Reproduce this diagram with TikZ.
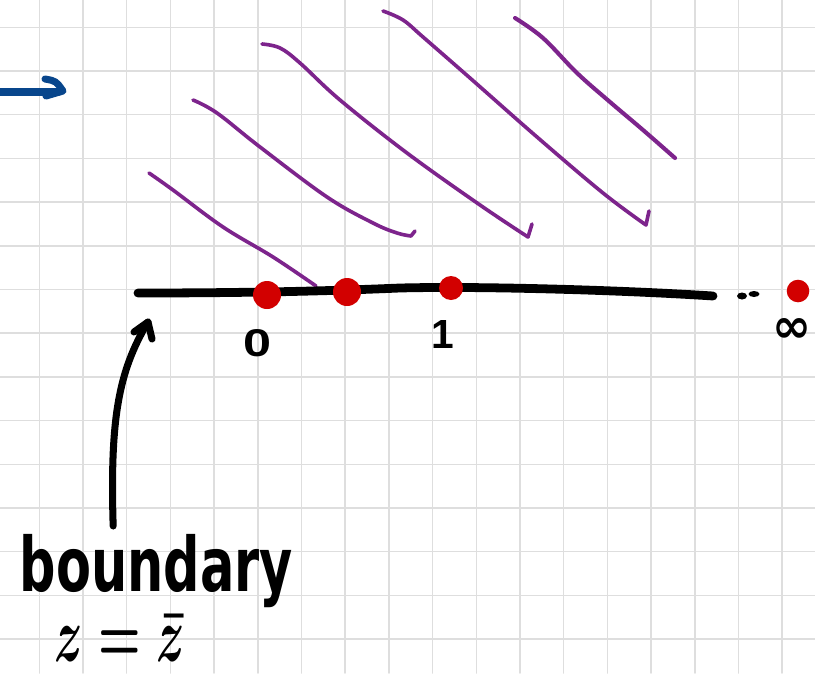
\documentclass[tikz,border=0pt]{standalone}
\usepackage{fontspec}
\usepackage{graphicx}
\setmainfont{Liberation Sans}
\newfontfamily\djv{DejaVu Sans}
\definecolor{gridc}{RGB}{222,222,222}
\definecolor{purp}{RGB}{125,36,140}
\definecolor{dotred}{RGB}{210,0,0}
\definecolor{arrblue}{RGB}{8,70,140}
\begin{document}
\begin{tikzpicture}[x=0.03cm,y=-0.03cm, line cap=round, line join=round,
  gridline/.style={draw=gridc, line width=1.3pt},
  hatch/.style={draw=purp, line width=3.1pt},
  ink/.style={draw=black, line width=6pt},
  reddot/.style={fill=dotred},
  lbl/.style={inner sep=0pt, outer sep=0pt}]
\useasboundingbox (0,0) rectangle (815,673);
\fill[white] (0,0) rectangle (815,673);
% grid
\foreach \i in {0,...,17} \draw[gridline] ({39.3+43.7*\i},0) -- ({39.3+43.7*\i},673);
\foreach \j in {0,...,14} \draw[gridline] (0,{27.3+43.7*\j}) -- (815,{27.3+43.7*\j});
% blue arrow
\coordinate (bstart) at (0,92);
\coordinate (bend) at (58,92);
\draw[arrblue, line width=7.5pt] (bstart) -- (bend);
\draw[arrblue, line width=6pt] (45,79) .. controls (56,81) .. (63,91) -- (46,96);
% purple hatching
\draw[hatch] plot[smooth, tension=0.6] coordinates {(149,173) (173,190) (223,227) (273,257) (316,286)};
\draw[hatch] plot[smooth, tension=0.6] coordinates {(193,100) (217,113) (260,147) (327,197) (373,223) (397,233) (411,236)} -- (415,231);
\draw[hatch] plot[smooth, tension=0.6] coordinates {(262,44) (280,48) (300,63) (340,100) (407,153) (480,205) (528,237)} -- (532,224);
\draw[hatch] plot[smooth, tension=0.6] coordinates {(383,11) (403,20) (423,37) (470,78) (537,137) (603,193) (646,225)} -- (649,211);
\draw[hatch, line width=3.5pt] plot[smooth, tension=0.6] coordinates {(515,18) (543,38) (577,73) (610,102) (643,130) (675,158)};
% real axis
\draw[black, line width=7.5pt] (138,293) .. controls (250,293) and (330,291) .. (400,288) .. controls (480,286) and (620,290) .. (713,296);
\fill (742,296) ellipse[x radius=5, y radius=3.5];
\fill (754,294) ellipse[x radius=5.5, y radius=3];
% red points
\fill[reddot] (267,295) circle[radius=14];
\fill[reddot] (347,292) circle[radius=14];
\fill[reddot] (451,288) circle[radius=12];
\fill[reddot] (798,291) circle[radius=11.3];
% labels
\node[lbl] (zero) at (258,343) {\resizebox{0.84cm}{0.81cm}{\bfseries 0}};
\node[lbl] (one) at (443,334) {\resizebox*{!}{0.84cm}{\bfseries 1}};
\node[lbl] (inf) at (791.5,330) {\resizebox{1.17cm}{0.72cm}{\djv\bfseries ∞}};
\node[lbl] (bnd) at (156.5,571) {\resizebox*{8.19cm}{2.2cm}{\djv\bfseries boundary}};
\node[lbl] (eq) at (120,638) {\resizebox*{3.9cm}{1.4cm}{\boldmath$z=\bar{z}$}};
% pointer arrow
\coordinate (tip) at (148,322);
\draw[ink] ([xshift=-1.3cm,yshift=0.25cm]bnd.north) .. controls (110,420) and (118,372) .. (tip);
\draw[ink] (134,332) -- (tip) -- (152,339);
\end{tikzpicture}
\end{document}
